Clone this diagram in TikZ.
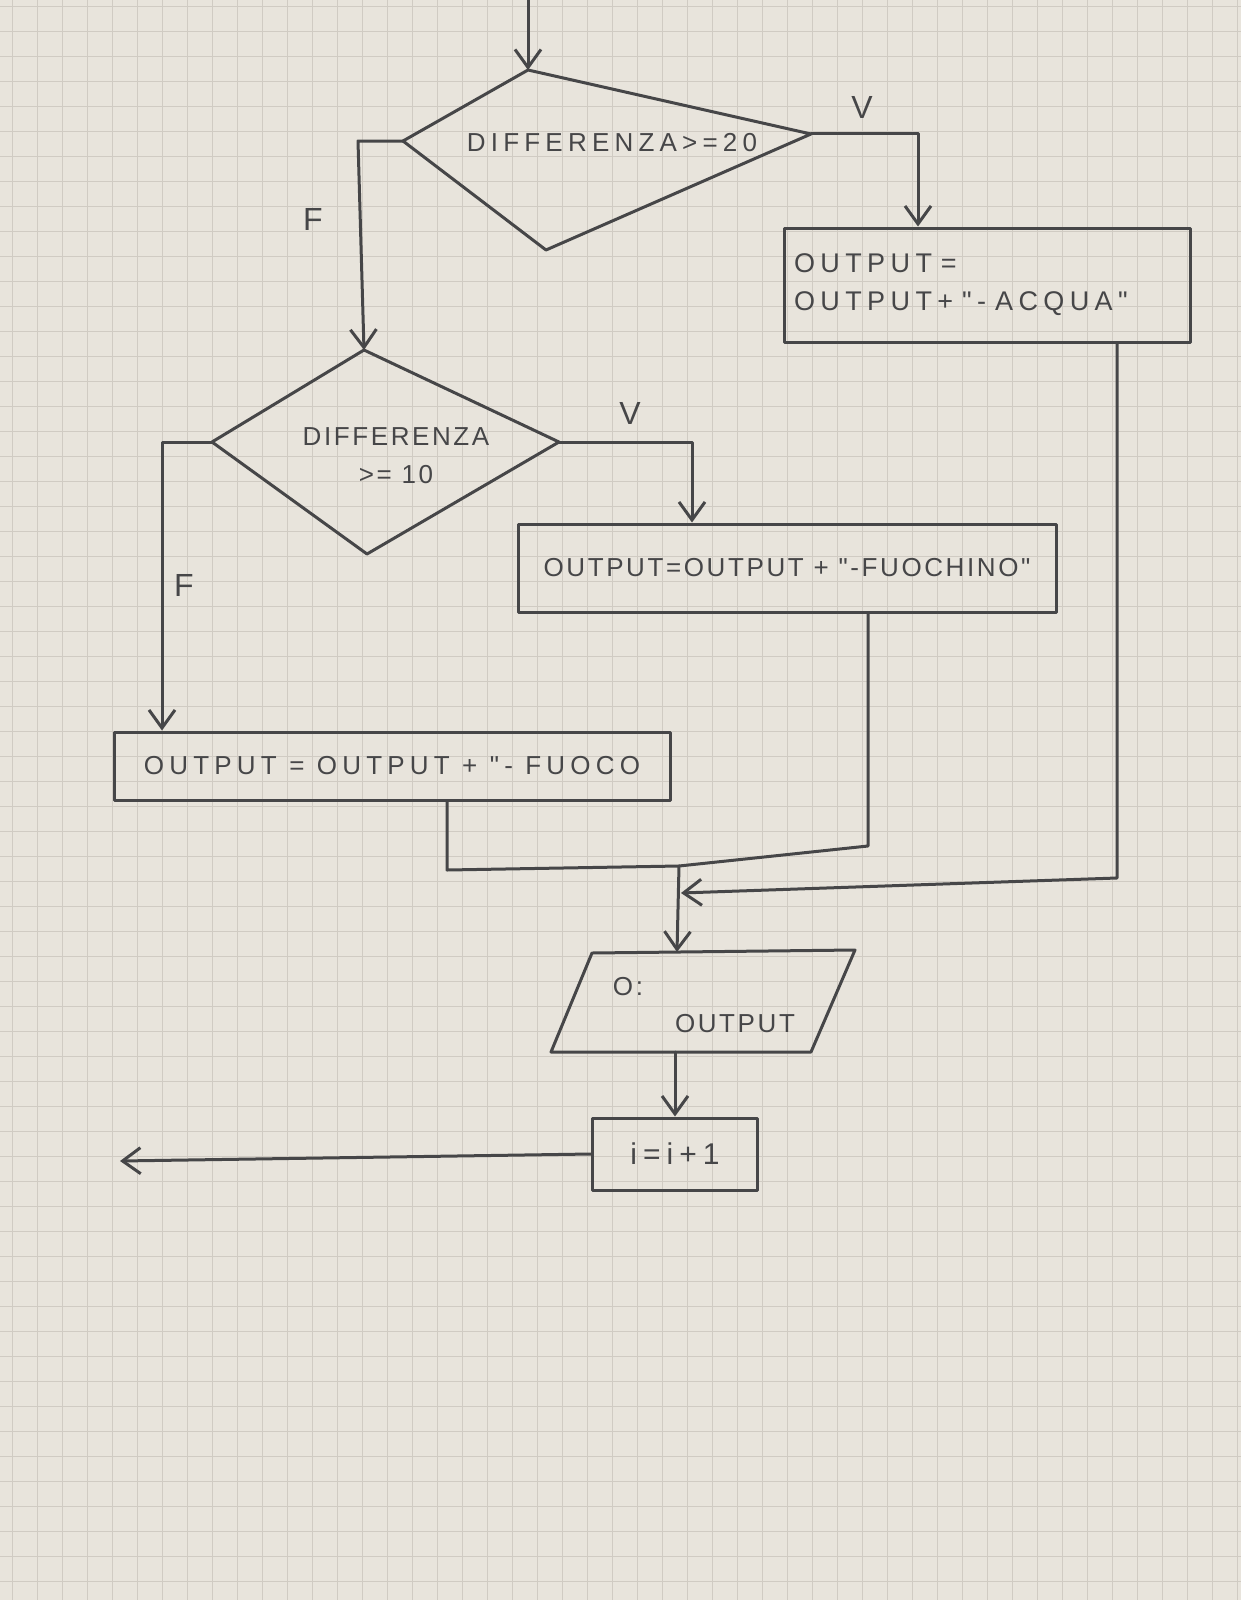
\documentclass[tikz,border=0pt]{standalone}
\usepackage{fontspec}
\setmainfont{Liberation Sans}
\newfontfamily\hand[LetterSpace=10]{Liberation Sans}
\newfontfamily\handB[LetterSpace=20]{Liberation Sans}
\usetikzlibrary{arrows.meta}
\definecolor{paper}{RGB}{232,228,220}
\definecolor{gridc}{RGB}{208,203,195}
\definecolor{ink}{RGB}{70,70,72}
\begin{document}
\begin{tikzpicture}[x=1pt,y=-1pt,
  ink/.style={draw=ink, line width=3pt, line join=round, line cap=round},
  arr/.style={ink, -{Straight Barb[length=18pt,width=26pt]}},
  box/.style={ink, rectangle, inner sep=0pt, text=ink, font=\hand\fontsize{26}{38}\selectfont},
  lbl/.style={text=ink, font=\fontsize{32}{36}\selectfont},
  txt/.style={text=ink, font=\hand\fontsize{26}{38}\selectfont, align=center}]
% paper
\fill[paper] (0,0) rectangle (1241,1600);
\useasboundingbox (0,0) rectangle (1241,1600);
\foreach \i in {0,...,49} {\draw[gridc, line width=1.5pt] (\i*25+12.5,0) -- (\i*25+12.5,1600);}
\foreach \j in {0,...,64} {\draw[gridc, line width=1.5pt] (0,\j*25+6.5) -- (1241,\j*25+6.5);}

% decision 1
\coordinate (d1t) at (528,70);
\coordinate (d1r) at (811,134);
\coordinate (d1b) at (546,250);
\coordinate (d1l) at (403,141);
\draw[ink] (d1t) -- (d1r) -- (d1b) -- (d1l) -- cycle;
\node[txt, font=\handB\fontsize{26}{38}\selectfont] (d1) at (612,143) {DIFFERENZA>=20};

% decision 2
\coordinate (d2t) at (364,350);
\coordinate (d2r) at (559,442);
\coordinate (d2b) at (367,554);
\coordinate (d2l) at (212,442);
\draw[ink] (d2t) -- (d2r) -- (d2b) -- (d2l) -- cycle;
\node[txt] (d2) at (396,456) {DIFFERENZA\\>= 10};

% process boxes
\node[box, text width=386, inner sep=10, minimum height=114, align=left, font=\handB\fontsize{27}{38}\selectfont] (acqua) at (987,285) {OUTPUT =\\OUTPUT+ "- ACQUA"};
\node[box, minimum width=538, minimum height=88] (fuochino) at (787,568) {OUTPUT=OUTPUT + "-FUOCHINO"};
\node[box, minimum width=556, minimum height=68, font=\handB\fontsize{26}{38}\selectfont] (fuoco) at (392,766) {OUTPUT = OUTPUT + "- FUOCO};

% output parallelogram
\coordinate (p1) at (592,953);
\coordinate (p2) at (855,950);
\coordinate (p3) at (811,1052);
\coordinate (p4) at (551,1052);
\draw[ink] (p1) -- (p2) -- (p3) -- (p4) -- cycle;
\node[txt] (po) at (628,987) {O:};
\node[txt] (pout) at (735,1024) {OUTPUT};
\coordinate (ptop) at (677,952);
\coordinate (pbot) at (675,1052);

% increment
\node[box, minimum width=165, minimum height=72, font=\handB\fontsize{30}{36}\selectfont] (inc) at (675,1154) {i=i+1};

% connectors
\coordinate (start) at (528,0);
\draw[arr] (start) -- (d1t);

\coordinate (c1) at (918,134);
\draw[arr] (d1r) -- (c1) -- (c1 |- acqua.north);
\node[lbl] (v1) at (862,107) {V};

\coordinate (c2) at (358,141);
\draw[arr] (d1l) -- (c2) -- (d2t);
\node[lbl] (f1) at (313,219) {F};

\coordinate (c3) at (692,442);
\draw[arr] (d2r) -- (c3) -- (c3 |- fuochino.north);
\node[lbl] (v2) at (630,413) {V};

\coordinate (c4) at (162,442);
\draw[arr] (d2l) -- (c4) -- (c4 |- fuoco.north);
\node[lbl] (f2) at (184,585) {F};

\coordinate (j) at (679,866);
\coordinate (c5) at (447,870);
\draw[ink] (c5 |- fuoco.south) -- (c5) -- (j);
\coordinate (c6) at (868,846);
\draw[ink] (c6 |- fuochino.south) -- (c6) -- (j);
\coordinate (c7) at (1117,878);
\coordinate (jin) at (681,893);
\draw[arr] (c7 |- acqua.south) -- (c7) -- (jin);
\draw[arr] (j) -- (ptop);

\draw[arr] (pbot) -- (inc.north);
\coordinate (endl) at (120,1161);
\draw[arr] (inc.west) -- (endl);
\end{tikzpicture}
\end{document}
